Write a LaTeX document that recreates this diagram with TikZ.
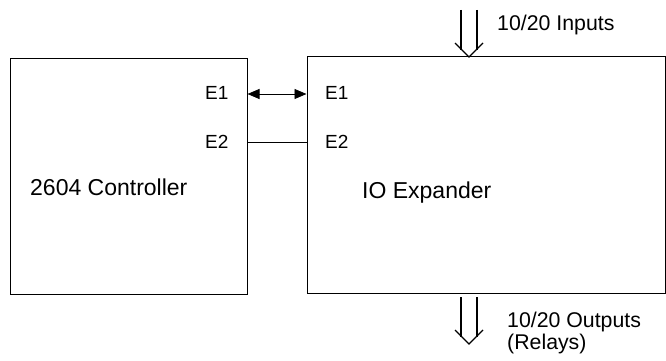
\documentclass[tikz,border=0pt]{standalone}
\usepackage{fontspec}
\setmainfont{Liberation Sans}
\usetikzlibrary{arrows.meta}

\begin{document}
\begin{tikzpicture}[x=1pt,y=-1pt,
        box/.style={draw, line width=1pt, rectangle, minimum height=236pt, inner sep=0pt},
        lbl/.style={anchor=west, inner sep=0pt, font=\fontsize{21.3}{25}\selectfont},
        unitname/.style={lbl, font=\fontsize{23}{27}\selectfont},
        port/.style={lbl, font=\fontsize{19}{22}\selectfont},
        bus/.style={line width=1.3pt}]
        \useasboundingbox (0,0) rectangle (666,361);

        % the two units
        \node[box, minimum width=237pt] (ctrl) at (128.5,176.5) {};
        \node[box, minimum width=358pt] (exp) at (486,175) {};

        % port labels
        \node[port] (ce1) at (205,93) {E1};
        \node[port] (ce2) at (205,142) {E2};
        \node[port] (xe1) at (325,93) {E1};
        \node[port] (xe2) at (325,142) {E2};

        \node[unitname] (ctrlname) at (30,187) {2604 Controller};
        \node[unitname] (expname) at (362,193) {IO Expander};

        % links between the units
        \draw[line width=0.9pt, {Triangle[length=12pt,width=10pt]}-{Triangle[length=12pt,width=10pt]}] (ctrl.east |- 0,94) -- (exp.west |- 0,94);
        \draw[line width=0.9pt] (ctrl.east |- 0,142) -- (exp.west |- 0,142);

        % inputs
        \coordinate (intip) at (469,57);
        \draw[bus] (461,10) -- (461,50);
        \draw[bus] (477,10) -- (477,50);
        \draw[bus] (intip) ++ (-14,-14) -- (intip) -- ++ (14,-14);
        \node[lbl] (inlbl) at (497,25) {10/20 Inputs};

        % outputs
        \coordinate (outtip) at (469,344);
        \draw[bus] (461,297) -- (461,337);
        \draw[bus] (477,297) -- (477,337);
        \draw[bus] (outtip) ++ (-14,-14) -- (outtip) -- ++ (14,-14);
        \node[lbl] (outlbl) at (507,322) {10/20 Outputs};
        \node[lbl] (relays) at (507,344) {(Relays)};
    \end{tikzpicture}
\end{document}
